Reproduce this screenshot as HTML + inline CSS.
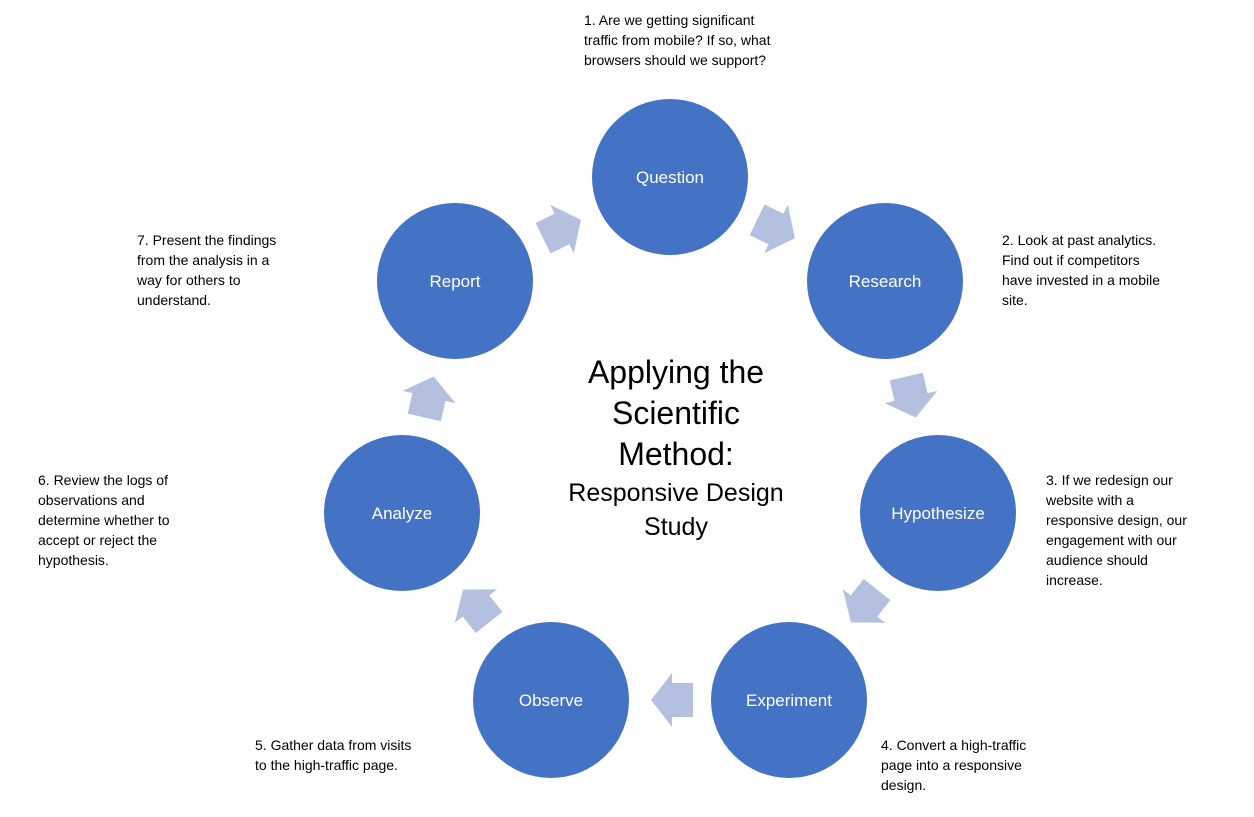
<!DOCTYPE html>
<html><head><meta charset="utf-8"><style>
html,body{margin:0;padding:0;background:#fff;}
svg{display:block;}
.s{font-family:"Liberation Sans",sans-serif;font-size:14px;fill:#000;}
.c{font-family:"Liberation Sans",sans-serif;font-size:17px;fill:#fff;text-anchor:middle;}
.t{font-family:"Liberation Sans",sans-serif;fill:#000;text-anchor:middle;font-weight:300;}
</style></head><body>
<svg width="1254" height="817" viewBox="0 0 1254 817" xmlns="http://www.w3.org/2000/svg">
<defs>
<path id="ar" d="M21,0 L0,-27 L0,-17 L-21,-17 L-21,17 L0,17 L0,27 Z" fill="#b4c0e0"/>
</defs>
<g fill="#4472c4">
<circle cx="670" cy="177" r="78"/>
<circle cx="885" cy="281" r="78"/>
<circle cx="938" cy="513" r="78"/>
<circle cx="789" cy="700" r="78"/>
<circle cx="551" cy="700" r="78"/>
<circle cx="402" cy="513" r="78"/>
<circle cx="455" cy="281" r="78"/>
</g>
<use href="#ar" transform="translate(776,229) rotate(25.8)"/>
<use href="#ar" transform="translate(911,397) rotate(77)"/>
<use href="#ar" transform="translate(864,606) rotate(128.5)"/>
<use href="#ar" transform="translate(672,700) rotate(180)"/>
<use href="#ar" transform="translate(476,606) rotate(-128.5)"/>
<use href="#ar" transform="translate(429,397) rotate(-77)"/>
<use href="#ar" transform="translate(562,229) rotate(-25.8)"/>
<text class="c" x="670" y="183">Question</text>
<text class="c" x="885" y="287">Research</text>
<text class="c" x="938" y="519">Hypothesize</text>
<text class="c" x="789" y="706">Experiment</text>
<text class="c" x="551" y="706">Observe</text>
<text class="c" x="402" y="519">Analyze</text>
<text class="c" x="455" y="287">Report</text>
<text class="t" font-size="32" x="676" y="383">Applying the</text>
<text class="t" font-size="32" x="676" y="424">Scientific</text>
<text class="t" font-size="32" x="676" y="465">Method:</text>
<text class="t" font-size="25" x="676" y="501">Responsive Design</text>
<text class="t" font-size="25" x="676" y="535">Study</text>
<g class="s">
<text x="584" y="25">1. Are we getting significant</text>
<text x="584" y="45">traffic from mobile?  If so, what</text>
<text x="584" y="65">browsers should we support?</text>
<text x="1002" y="245">2. Look at past analytics.</text>
<text x="1002" y="265">Find out if competitors</text>
<text x="1002" y="285">have invested in a mobile</text>
<text x="1002" y="305">site.</text>
<text x="1046" y="485">3. If we redesign our</text>
<text x="1046" y="505">website with a</text>
<text x="1046" y="525">responsive design, our</text>
<text x="1046" y="545">engagement with our</text>
<text x="1046" y="565">audience should</text>
<text x="1046" y="585">increase.</text>
<text x="881" y="750">4. Convert a high-traffic</text>
<text x="881" y="770">page into a responsive</text>
<text x="881" y="790">design.</text>
<text x="255" y="750">5. Gather data from visits</text>
<text x="255" y="770">to the high-traffic page.</text>
<text x="38" y="485">6. Review the logs of</text>
<text x="38" y="505">observations and</text>
<text x="38" y="525">determine whether to</text>
<text x="38" y="545">accept or reject the</text>
<text x="38" y="565">hypothesis.</text>
<text x="137" y="245">7. Present the findings</text>
<text x="137" y="265">from the analysis in a</text>
<text x="137" y="285">way for others to</text>
<text x="137" y="305">understand.</text>
</g>
</svg>
</body></html>
